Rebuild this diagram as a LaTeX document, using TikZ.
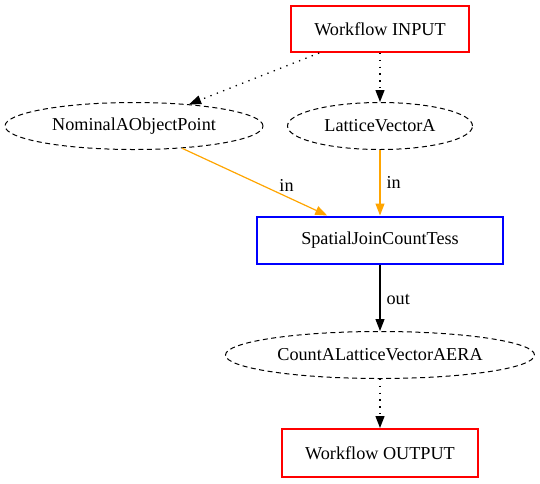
\documentclass[tikz,border=0pt]{standalone}
\usepackage{fontspec}
\setmainfont{Liberation Serif}
\usepackage{tikz}
\usetikzlibrary{shapes.geometric, arrows.meta, positioning}
\definecolor{flowred}{RGB}{255, 0, 0}
\definecolor{taskblue}{RGB}{0, 0, 255}
\definecolor{inorange}{RGB}{255, 165, 0}

\begin{document}
\begin{tikzpicture}[
    x=1pt, y=1pt,
    font=\fontsize{18.2}{21}\selectfont,
    flow/.style={rectangle, draw=flowred, line width=2pt, minimum width=178pt, minimum height=46pt, inner sep=0pt},
    task/.style={rectangle, draw=taskblue, line width=2pt, minimum width=246pt, minimum height=47pt, inner sep=0pt},
    data/.style={ellipse, draw=black, dash pattern=on 5pt off 3.5pt, line width=1pt, minimum height=47pt, inner sep=0pt},
    dotlink/.style={-{Triangle[length=12pt, width=9pt]}, line width=1.3pt, dash pattern=on 1.3pt off 5.5pt, black},
    inlink/.style={-{Triangle[length=12pt, width=9pt]}, line width=1.2pt, inorange},
    outlink/.style={-{Triangle[length=12pt, width=9pt]}, line width=1.2pt, black}
]
\useasboundingbox (0,0) rectangle (540,-483);

% Workflow ends
\node[flow] (input) at (380,-29) {Workflow INPUT};
\node[flow, minimum width=196pt, minimum height=48pt] (output) at (380,-453) {Workflow OUTPUT};

% Data objects
\node[data, minimum width=258pt] (nominal) at (134,-126) {NominalAObjectPoint};
\node[data, minimum width=185pt] (lattice) at (380,-126) {LatticeVectorA};
\node[data, minimum width=309pt] (count) at (380,-355) {CountALatticeVectorAERA};

% Task
\node[task] (join) at (380,-240) {SpatialJoinCountTess};

% Edges
\draw[dotlink] (input) -- (nominal);
\draw[dotlink] (input) -- (lattice);
\draw[inlink] (nominal) -- node[pos=0.66, above right, inner sep=1pt, text=black] {in} (join);
\draw[inlink] (lattice) -- node[right, inner sep=6pt, text=black] {in} (join);
\draw[outlink] (join) -- node[right, inner sep=6pt, yshift=-2pt] {out} (count);
\draw[dotlink] (count) -- (output);
\end{tikzpicture}
\end{document}
